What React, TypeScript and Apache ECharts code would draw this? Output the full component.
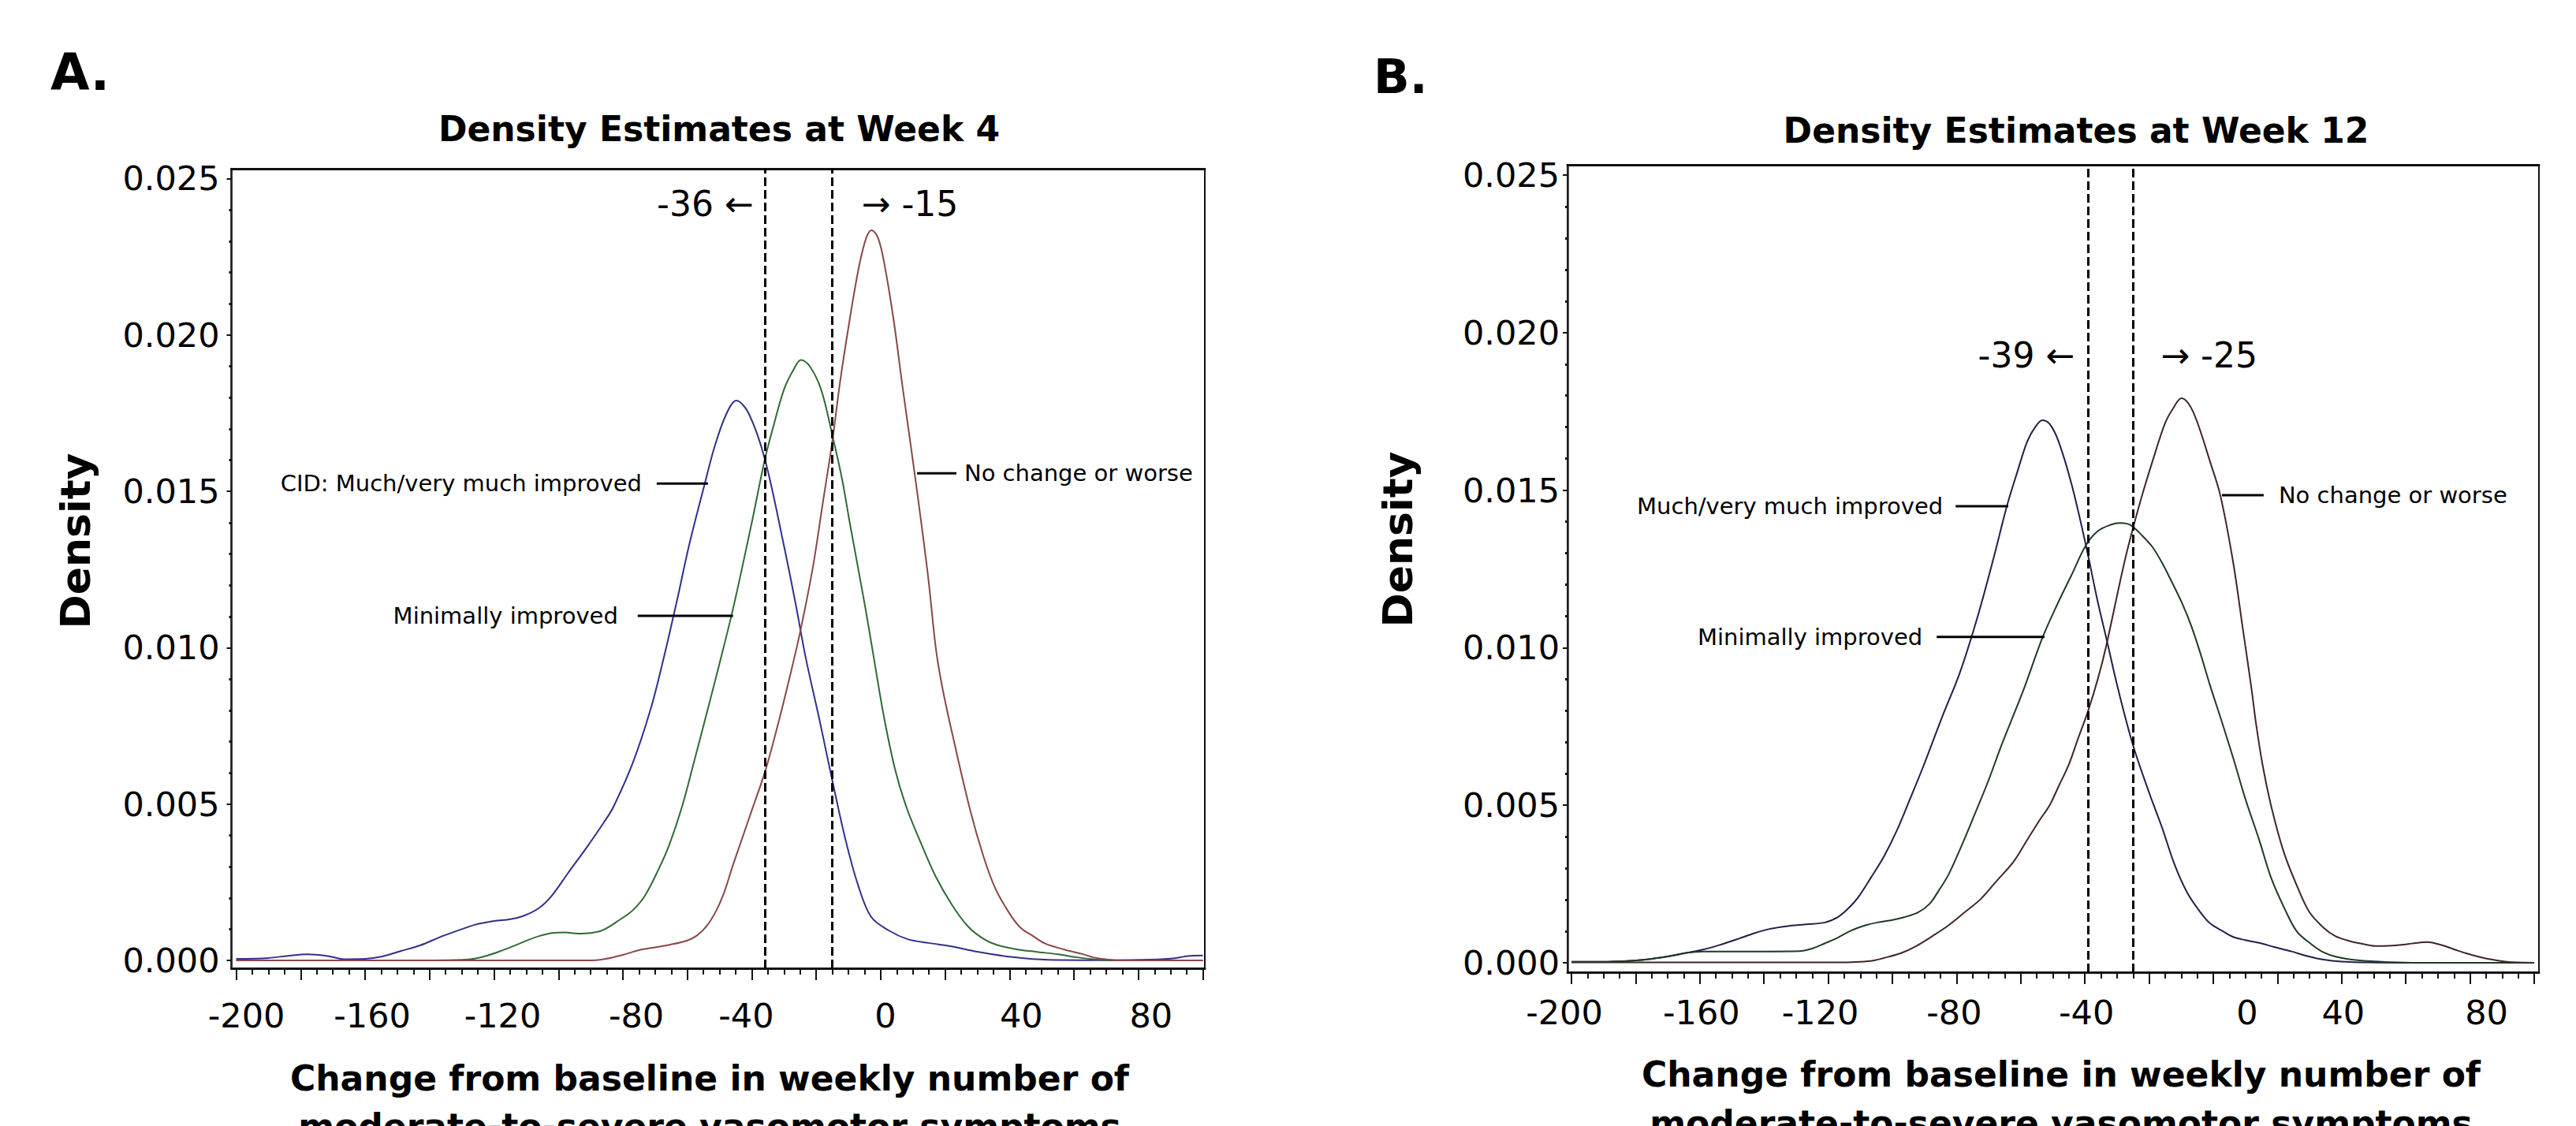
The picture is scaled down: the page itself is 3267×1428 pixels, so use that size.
import React, { useEffect, useRef } from "react";
import * as echarts from "echarts";

// ---------------- DATA ----------------
// Axis ticks / labels
const X_MAJOR = [-200, -180, -160, -140, -120, -100, -80, -60, -40, -20, 0, 20, 40, 60, 80, 100];
const X_MINOR = [
  -195, -190, -185, -175, -170, -165, -155, -150, -145, -135, -130, -125, -115, -110, -105,
  -95, -90, -85, -75, -70, -65, -55, -50, -45, -35, -30, -25, -15, -10, -5,
  5, 10, 15, 25, 30, 35, 45, 50, 55, 65, 70, 75, 85, 90, 95,
];
const X_LABELS = [-200, -160, -120, -80, -40, 0, 40, 80];
const Y_MAJOR = [0, 0.005, 0.01, 0.015, 0.02, 0.025];
const Y_MINOR = [
  0.001, 0.002, 0.003, 0.004, 0.006, 0.007, 0.008, 0.009, 0.011, 0.012, 0.013, 0.014,
  0.016, 0.017, 0.018, 0.019, 0.021, 0.022, 0.023, 0.024,
];

// Panel A: Week 4 density estimates [change, density]
const A_MUCH: [number, number][] = [
  [-200, 0.00005], [-190, 0.00008], [-184, 0.00015], [-178, 0.0002], [-172, 0.00015], [-166, 0.00004],
  [-160, 0.00005], [-155, 0.00012], [-149, 0.0003], [-143, 0.00048], [-136, 0.00078], [-130, 0.001],
  [-126, 0.00114], [-120, 0.00126], [-115, 0.00132], [-111, 0.00142], [-106, 0.00168], [-102, 0.00208],
  [-97, 0.0028], [-91, 0.00365], [-86, 0.0044], [-83, 0.0049], [-77, 0.0063], [-71.5, 0.008],
  [-67.5, 0.0096], [-63.3, 0.01147], [-59.4, 0.0133], [-54.5, 0.01528], [-51.6, 0.01641], [-48, 0.01745],
  [-44.8, 0.0179], [-41, 0.0175], [-36, 0.01605], [-30.1, 0.0133], [-26.2, 0.0113], [-23.3, 0.0097],
  [-19, 0.0077], [-15, 0.00575], [-11, 0.0039], [-7.2, 0.00247], [-3, 0.0014], [2.5, 0.00096],
  [8.4, 0.00068], [15, 0.00056], [22, 0.00045], [30, 0.00028], [41.6, 0.0001], [52, 0.00002],
  [65, 0.00001], [80, 0.00002], [90, 0.00006], [96, 0.00015], [100, 0.00016],
];
const A_MIN: [number, number][] = [
  [-200, 0], [-140, 0], [-130, 0.00002], [-126, 0.00006], [-122, 0.00016], [-118, 0.0003],
  [-114, 0.00046], [-110, 0.00063], [-106, 0.00078], [-102, 0.00088], [-98, 0.0009], [-94, 0.00086],
  [-90, 0.00088], [-86, 0.00098], [-81, 0.0013], [-77, 0.0016], [-73.3, 0.00205], [-69, 0.0029],
  [-65.6, 0.0037], [-61.7, 0.0049], [-57.8, 0.0064], [-54, 0.0079], [-50, 0.0095], [-45.7, 0.0113],
  [-40, 0.014], [-36, 0.016], [-33.5, 0.017], [-30, 0.01826], [-27, 0.0189], [-24.7, 0.0192],
  [-22, 0.019], [-18.5, 0.01826], [-15, 0.0168], [-12, 0.0154], [-9.6, 0.014], [-4.8, 0.0113],
  [-2, 0.0096], [1, 0.0078], [4.5, 0.0061], [8, 0.0049], [12.3, 0.0038], [17, 0.0027], [22, 0.0018],
  [27, 0.0011], [31.8, 0.0007], [36, 0.0005], [41.6, 0.00037], [48, 0.00028], [55, 0.0002],
  [61, 0.0001], [67, 0.00003], [75, 0], [100, 0],
];
const A_NOCH: [number, number][] = [
  [-200, 0], [-90, 0], [-86, 0.00004], [-80, 0.00018], [-75, 0.00033], [-70, 0.00042], [-65.6, 0.0005],
  [-60, 0.00064], [-57, 0.0008], [-54, 0.0011], [-51, 0.0016], [-48.5, 0.0022], [-46, 0.003],
  [-43, 0.0039], [-40, 0.0048], [-36, 0.006], [-32.5, 0.0073], [-28.6, 0.0089], [-25, 0.0105],
  [-21, 0.0126], [-18, 0.0146], [-15, 0.0166], [-12.6, 0.0185], [-9.6, 0.0205], [-6.7, 0.0222],
  [-4.5, 0.0231], [-2.8, 0.02335], [-0.8, 0.0231], [1.1, 0.0223], [4, 0.0205], [6.9, 0.01826],
  [10.8, 0.01538], [14.7, 0.01229], [17.1, 0.01], [19, 0.0088], [22, 0.00735], [27.8, 0.0048],
  [32, 0.0033], [35.6, 0.0023], [40, 0.0015], [43.4, 0.00105], [47, 0.0008], [51.1, 0.00054],
  [57, 0.00035], [62.8, 0.0002], [66, 0.0001], [70.6, 0.00003], [75, 0], [100, 0],
];

// Panel B: Week 12 density estimates [change, density]
const B_MUCH: [number, number][] = [
  [-200, 0.00003], [-190, 0.00003], [-184, 0.00005], [-177, 0.0001], [-170, 0.0002], [-164, 0.00032],
  [-159, 0.00042], [-154, 0.00056], [-148, 0.00076], [-143, 0.00094], [-138, 0.00108], [-133, 0.00116],
  [-127, 0.00122], [-121, 0.00128], [-117, 0.00145], [-114, 0.0017], [-110.5, 0.0021], [-106.7, 0.0027],
  [-102.5, 0.0034], [-98.6, 0.0042], [-94.5, 0.0052], [-90.5, 0.0062], [-84.5, 0.0078], [-79, 0.0092],
  [-73.4, 0.011], [-68.4, 0.01287], [-64.3, 0.0145], [-61, 0.0156], [-58, 0.01654], [-55.5, 0.017],
  [-53.3, 0.01722], [-51, 0.0171], [-48.2, 0.01654], [-44.2, 0.0152], [-39.7, 0.01325], [-36.1, 0.0115],
  [-33.1, 0.0102], [-29.7, 0.0087], [-25, 0.0069], [-20, 0.0054], [-16, 0.0043], [-12, 0.0031],
  [-8, 0.0022], [-4, 0.0016], [-1, 0.00125], [3, 0.001], [6.2, 0.00082], [10, 0.00072], [14.3, 0.00063],
  [19, 0.0005], [24.4, 0.00036], [29, 0.00022], [34.4, 0.0001], [40, 0.00004], [48.5, 0.00001],
  [60, 0], [100, 0],
];
const B_MIN: [number, number][] = [
  [-200, 0.00003], [-190, 0.00003], [-184, 0.00005], [-177, 0.0001], [-170, 0.0002], [-164, 0.00032],
  [-159, 0.00036], [-150, 0.00036], [-140, 0.00036], [-129, 0.00037], [-125, 0.00045], [-121, 0.00062],
  [-117, 0.0008], [-112.7, 0.00103], [-108, 0.0012], [-104.7, 0.00128], [-100, 0.00136], [-96.6, 0.00144],
  [-92, 0.0016], [-88.5, 0.00186], [-85.5, 0.0023], [-82.5, 0.0028], [-78.5, 0.0037], [-74.4, 0.0047],
  [-70, 0.0058], [-66.4, 0.0068], [-62.5, 0.0078], [-59, 0.0087], [-53.3, 0.0103], [-48.5, 0.0114],
  [-44.2, 0.0123], [-39.7, 0.01325], [-36, 0.0137], [-32, 0.0139], [-29.1, 0.01396], [-25.9, 0.0139],
  [-22, 0.01354], [-19, 0.0132], [-16, 0.0127], [-13, 0.0121], [-9.9, 0.01145], [-6.9, 0.0107],
  [-3.9, 0.00978], [-1, 0.0088], [2.5, 0.0077], [6.2, 0.0065], [10, 0.0052], [14.3, 0.0039], [18, 0.0027],
  [22.3, 0.0017], [26, 0.001], [30.4, 0.0006], [34, 0.00035], [38.4, 0.00019], [45, 0.00008],
  [54.6, 0.00002], [65, 0], [100, 0],
];
const B_NOCH: [number, number][] = [
  [-200, 0.00001], [-115, 0.00001], [-110, 0.00003], [-106, 0.00007], [-102.7, 0.00015], [-97, 0.00032],
  [-92.6, 0.00053], [-87.5, 0.00085], [-82.5, 0.00119], [-77.5, 0.0016], [-72.4, 0.00203], [-67.5, 0.0026],
  [-62.3, 0.0032], [-58, 0.0039], [-54.3, 0.0045], [-51, 0.005], [-48.2, 0.0056], [-45, 0.0063],
  [-42.2, 0.0071], [-39, 0.008], [-36, 0.009], [-33.5, 0.01], [-30.1, 0.0116], [-27.5, 0.0128],
  [-25, 0.0138], [-22, 0.0149], [-19, 0.0159], [-15, 0.01713], [-12.5, 0.0176], [-9.9, 0.01792],
  [-7.4, 0.0177], [-4.9, 0.01713], [-0.9, 0.01587], [2.2, 0.01483], [6.2, 0.0127], [9.2, 0.0106],
  [11.9, 0.0087], [13.3, 0.0076], [15.5, 0.0062], [18.3, 0.00486], [22, 0.0035], [26.4, 0.00236],
  [30, 0.0016], [34.4, 0.00111], [38, 0.00085], [42.5, 0.00069], [46.5, 0.0006], [50.5, 0.00053],
  [54.5, 0.00054], [58.6, 0.00057], [62.5, 0.00062], [66.7, 0.00066], [70.5, 0.00058], [74.7, 0.00044],
  [78.8, 0.0003], [82.8, 0.00019], [87, 0.0001], [90.9, 0.00004], [95, 0.00001], [100, 0],
];

// Cut-off values (vertical dashed lines)
const A_CUTS = [-36, -15];
const B_CUTS = [-39, -25];

// Text content
const A_TITLE = "Density Estimates at Week 4";
const B_TITLE = "Density Estimates at Week 12";
const Y_TITLE = "Density";
const X_TITLE_1 = "Change from baseline in weekly number of";
const X_TITLE_2 = "moderate-to-severe vasomotor symptoms";
const A_SERIES_NAMES = ["CID: Much/very much improved", "Minimally improved", "No change or worse"];
const B_SERIES_NAMES = ["Much/very much improved", "Minimally improved", "No change or worse"];
const A_CUT_TEXT = ["-36 \u2190", "\u2192 -15"];
const B_CUT_TEXT = ["-39 \u2190", "\u2192 -25"];

// ---------------- STYLE / LAYOUT ----------------
const FONT = "'DejaVu Sans', sans-serif";
const A_COLORS = ["#30308a", "#2f6a35", "#884848"];
const B_COLORS = ["#20204a", "#203a24", "#402626"];

const A_LAYOUT = { left: 293.5, top: 214, width: 1234.5, height: 1014, xMin: -201.5, xMax: 100.6, yMin: -0.00025, yMax: 0.025315, labelMargin: 38, yLabelMargin: 15 };
const B_LAYOUT = { left: 1988, top: 209, width: 1232, height: 1024, xMin: -201.23, xMax: 101.47, yMin: -0.0003, yMax: 0.025325, labelMargin: 29, yLabelMargin: 10 };
// horizontal nudges (px) of the typeset tick labels relative to their ticks
const A_LABEL_NUDGE = [13, 9, 11, 17, -7, 6, 15, 16];
const B_LABEL_NUDGE = [-9, 2, -10, -3, 2, 43, 2, 21];

// leader-line annotations (data coordinates) and gaps in px
const A_NOTES = [
  { from: -69.5, to: -53.6, at: 0.01525, side: "left", gap: 19 },
  { from: -75.4, to: -45.8, at: 0.01102, side: "left", gap: 25 },
  { from: 11.3, to: 23.5, at: 0.01558, side: "right", gap: 10 },
];
const B_NOTES = [
  { from: -80.3, to: -63.9, at: 0.01449, side: "left", gap: 16 },
  { from: -86.2, to: -52.6, at: 0.01034, side: "left", gap: 18 },
  { from: 2.7, to: 15.7, at: 0.01484, side: "right", gap: 19 },
];
const A_CUT_POS = { y: 0.0242, gaps: [14, 37] };
const B_CUT_POS = { y: 0.01929, gaps: [17, 35] };

function buildAxes(gridIndex: number, L: any, nudges: number[]) {
  const rich: any = {};
  X_LABELS.forEach((_, i) => {
    const d = nudges[i];
    rich["n" + i] = {
      fontFamily: FONT, fontSize: 43, color: "#000",
      padding: [0, d < 0 ? -2 * d : 0, 0, d > 0 ? 2 * d : 0],
    };
  });
  const xAxes = [
    {
      type: "value", gridIndex, min: L.xMin, max: L.xMax, position: "bottom",
      axisLine: { show: true, onZero: false, lineStyle: { color: "#111", width: 3 } },
      axisTick: { show: true, customValues: X_MAJOR, length: 15, inside: false, lineStyle: { color: "#111", width: 2 } },
      axisLabel: {
        show: true, customValues: X_LABELS, margin: L.labelMargin, fontFamily: FONT, fontSize: 43, color: "#000",
        formatter: (v: number) => {
          const i = X_LABELS.findIndex((t) => Math.abs(t - v) < 1e-6);
          return i < 0 ? "" : `{n${i}|${X_LABELS[i]}}`;
        },
        rich,
      },
      splitLine: { show: false },
    },
    {
      type: "value", gridIndex, min: L.xMin, max: L.xMax, position: "bottom",
      axisLine: { show: false, onZero: false },
      axisTick: { show: true, customValues: X_MINOR, length: 8, inside: false, lineStyle: { color: "#111", width: 2 } },
      axisLabel: { show: false },
      splitLine: { show: false },
    },
    {
      type: "value", gridIndex, min: L.xMin, max: L.xMax, position: "top",
      axisLine: { show: true, onZero: false, lineStyle: { color: "#111", width: 3 } },
      axisTick: { show: false }, axisLabel: { show: false }, splitLine: { show: false },
    },
  ];
  const yAxes = [
    {
      type: "value", gridIndex, min: L.yMin, max: L.yMax, position: "left",
      axisLine: { show: true, onZero: false, lineStyle: { color: "#222", width: 2.5 } },
      axisTick: { show: true, customValues: Y_MAJOR, length: 6, inside: false, lineStyle: { color: "#111", width: 2 } },
      axisLabel: {
        show: true, customValues: Y_MAJOR, margin: L.yLabelMargin, fontFamily: FONT, fontSize: 43, color: "#000",
        formatter: (v: number) => v.toFixed(3),
      },
      splitLine: { show: false },
    },
    {
      type: "value", gridIndex, min: L.yMin, max: L.yMax, position: "left",
      axisLine: { show: false, onZero: false },
      axisTick: { show: true, customValues: Y_MINOR, length: 3, inside: false, lineStyle: { color: "#111", width: 3 } },
      axisLabel: { show: false }, splitLine: { show: false },
    },
  ];
  return { xAxes, yAxes };
}

function buildSeries(names: string[], datas: [number, number][][], colors: string[], xIdx: number, yIdx: number, cuts: number[]) {
  return datas.map((d, i) => ({
    type: "line", name: names[i], data: d, xAxisIndex: xIdx, yAxisIndex: yIdx,
    showSymbol: false, smooth: 0.35, clip: true,
    lineStyle: { color: colors[i], width: 2 },
    markLine: i === 0 ? {
      silent: true, symbol: ["none", "none"], label: { show: false },
      lineStyle: { color: "#000", width: 3, type: [11, 5] },
      data: cuts.map((c) => ({ xAxis: c })),
      z: 10,
    } : undefined,
    z: 3,
  }));
}

function buildOption() {
  const a = buildAxes(0, A_LAYOUT, A_LABEL_NUDGE);
  const b = buildAxes(1, B_LAYOUT, B_LABEL_NUDGE);
  return {
    animation: false,
    backgroundColor: "#fff",
    grid: [
      { left: A_LAYOUT.left, top: A_LAYOUT.top, width: A_LAYOUT.width, height: A_LAYOUT.height, show: true, borderColor: "#111", borderWidth: 2, containLabel: false },
      { left: B_LAYOUT.left, top: B_LAYOUT.top, width: B_LAYOUT.width, height: B_LAYOUT.height, show: true, borderColor: "#111", borderWidth: 2, containLabel: false },
    ],
    xAxis: [...a.xAxes, ...b.xAxes],
    yAxis: [...a.yAxes, ...b.yAxes],
    series: [
      ...buildSeries(A_SERIES_NAMES, [A_MUCH, A_MIN, A_NOCH], A_COLORS, 0, 0, A_CUTS),
      ...buildSeries(B_SERIES_NAMES, [B_MUCH, B_MIN, B_NOCH], B_COLORS, 3, 2, B_CUTS),
    ],
  };
}

function txt(text: string, x: number, y: number, size: number, weight: string, align: string, vAlign = "middle", rotation = 0) {
  return {
    type: "text", x, y, rotation, z: 100,
    style: {
      text, fill: "#000", fontSize: size, fontFamily: FONT, fontWeight: weight,
      align, textAlign: align, verticalAlign: vAlign, textVerticalAlign: vAlign,
    },
  };
}

function buildGraphic(chart: any) {
  const g: any[] = [];
  const panels = [
    { si: 0, notes: A_NOTES, names: A_SERIES_NAMES, cuts: A_CUTS, cutText: A_CUT_TEXT, cutPos: A_CUT_POS },
    { si: 3, notes: B_NOTES, names: B_SERIES_NAMES, cuts: B_CUTS, cutText: B_CUT_TEXT, cutPos: B_CUT_POS },
  ];
  panels.forEach((p) => {
    const px = (x: number, y: number) => chart.convertToPixel({ seriesIndex: p.si }, [x, y]);
    p.notes.forEach((n, i) => {
      const s = px(n.from, n.at);
      const e = px(n.to, n.at);
      g.push({ type: "line", z: 100, shape: { x1: s[0], y1: s[1], x2: e[0], y2: e[1] }, style: { stroke: "#000", lineWidth: 3 } });
      if (n.side === "left") g.push(txt(p.names[i], s[0] - n.gap, s[1], 29, "normal", "right"));
      else g.push(txt(p.names[i], e[0] + n.gap, e[1], 29, "normal", "left"));
    });
    p.cuts.forEach((c, i) => {
      const q = px(c, p.cutPos.y);
      if (i === 0) g.push(txt(p.cutText[i], q[0] - p.cutPos.gaps[i], q[1], 44, "normal", "right"));
      else g.push(txt(p.cutText[i], q[0] + p.cutPos.gaps[i], q[1], 44, "normal", "left"));
    });
  });
  // panel letters, titles, axis titles
  g.push(txt("A.", 64, 92, 64, "bold", "left"));
  g.push(txt("B.", 1742, 97, 60, "bold", "left"));
  g.push(txt(A_TITLE, 912, 163, 44, "bold", "center"));
  g.push(txt(B_TITLE, 2633, 165, 44, "bold", "center"));
  g.push(txt(Y_TITLE, 96, 686, 52, "bold", "center", "middle", Math.PI / 2));
  g.push(txt(Y_TITLE, 1773, 684, 52, "bold", "center", "middle", Math.PI / 2));
  g.push(txt(X_TITLE_1, 900, 1367, 44, "bold", "center"));
  g.push(txt(X_TITLE_2, 900, 1428, 44, "bold", "center"));
  g.push(txt(X_TITLE_1, 2614, 1362, 44, "bold", "center"));
  g.push(txt(X_TITLE_2, 2614, 1424, 44, "bold", "center"));
  return g;
}

export default function App() {
  const ref = useRef<HTMLDivElement>(null);
  useEffect(() => {
    document.body.style.margin = "0";
    document.body.style.overflow = "hidden";
    const chart = echarts.init(ref.current as HTMLDivElement, null, { renderer: "svg" });
    chart.setOption(buildOption() as any);
    chart.setOption({ graphic: buildGraphic(chart) } as any);
    return () => chart.dispose();
  }, []);
  return (
    <div
      ref={ref}
      style={{ position: "absolute", left: 0, top: 0, width: 3267, height: 1428, background: "#fff" }}
    />
  );
}
